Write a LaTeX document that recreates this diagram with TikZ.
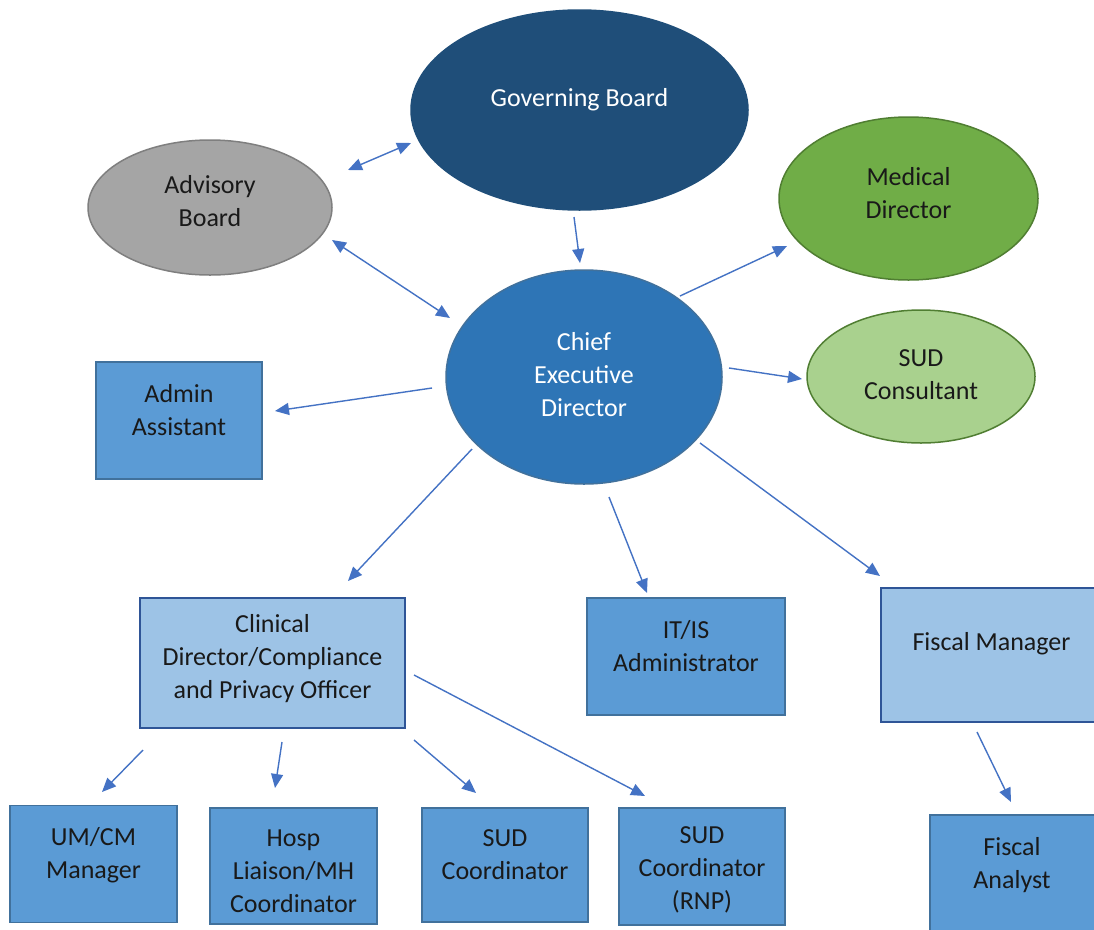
\documentclass[tikz,border=0pt]{standalone}
\usepackage{fontspec}
\setmainfont{Carlito}
\usetikzlibrary{arrows.meta,shapes.geometric}
\definecolor{govc}{HTML}{1F4E79}
\definecolor{advc}{HTML}{A5A5A5}
\definecolor{advb}{HTML}{7F7F7F}
\definecolor{medc}{HTML}{70AD47}
\definecolor{medb}{HTML}{507E32}
\definecolor{sudcc}{HTML}{A9D18E}
\definecolor{cedc}{HTML}{2E75B6}
\definecolor{boxc}{HTML}{5B9BD5}
\definecolor{boxb}{HTML}{41719C}
\definecolor{lboxc}{HTML}{9DC3E6}
\definecolor{lboxb}{HTML}{2F5597}
\definecolor{arrc}{HTML}{4472C4}
\tikzset{
  ell/.style={ellipse,inner sep=0pt,line width=1.5pt},
  bx/.style={rectangle,inner sep=0pt,line width=1.5pt,fill=boxc,draw=boxb},
  lbx/.style={rectangle,inner sep=0pt,line width=2pt,fill=lboxc,draw=lboxb},
  tl/.style={align=center,font=\fontsize{26}{33}\selectfont,text=black!90},
  tw/.style={align=center,font=\fontsize{26}{33}\selectfont,text=white},
  arr/.style={draw=arrc,line width=1.4pt,-{Triangle[length=14pt,width=12pt]}},
  darr/.style={draw=arrc,line width=1.4pt,{Triangle[length=14pt,width=12pt]}-{Triangle[length=14pt,width=12pt]}}
}
\begin{document}
\begin{tikzpicture}[x=1pt,y=-1pt]
\useasboundingbox[fill=white] (0,0) rectangle (1094,929);
\clip (0,0) rectangle (1094,929);
% ellipses
\node[ell,fill=govc,draw=govc,minimum width=337,minimum height=200,
  label={[tw,yshift=10]center:Governing Board}] (gov) at (579.5,110) {};
\node[ell,fill=advc,draw=advb,minimum width=244,minimum height=135,
  label={[tl,yshift=6]center:Advisory\\Board}] (adv) at (210,207.5) {};
\node[ell,fill=medc,draw=medb,minimum width=259,minimum height=163,
  label={[tl,yshift=5]center:Medical\\Director}] (med) at (908.5,198.5) {};
\node[ell,fill=sudcc,draw=medb,minimum width=228,minimum height=133,
  label={[tl,yshift=2]center:SUD\\Consultant}] (sudc) at (921,376.5) {};
\node[ell,fill=cedc,draw=boxb,minimum width=276,minimum height=214,
  label={[tw,yshift=2]center:Chief\\Executive\\Director}] (ced) at (584,377) {};
% boxes
\node[bx,minimum width=166,minimum height=117,
  label={[tl,yshift=10]center:Admin\\Assistant}] (admin) at (179,420.5) {};
\node[lbx,minimum width=265,minimum height=130,
  label={[tl,yshift=4]center:Clinical\\Director/Compliance\\and Privacy Officer}] (clin) at (272.5,663) {};
\node[bx,minimum width=198,minimum height=117,
  label={[tl,yshift=10]center:IT/IS\\Administrator}] (it) at (686,656.5) {};
\node[lbx,minimum width=229,minimum height=134,
  label={[tl,xshift=-4,yshift=11]center:Fiscal Manager}] (fm) at (995.5,655) {};
\node[bx,minimum width=167,minimum height=117,
  label={[tl,yshift=9]center:UM/CM\\Manager}] (um) at (93.5,864) {};
\node[bx,minimum width=167,minimum height=116,
  label={[tl,yshift=-5]center:Hosp\\Liaison/MH\\Coordinator}] (hosp) at (293.5,866) {};
\node[bx,minimum width=166,minimum height=114,
  label={[tl,yshift=10]center:SUD\\Coordinator}] (sudco) at (505,865) {};
\node[bx,minimum width=166,minimum height=117,
  label={[tl,yshift=-3]center:SUD\\Coordinator\\(RNP)}] (rnp) at (702,866.5) {};
\node[bx,minimum width=180,minimum height=130,
  label={[tl,xshift=-8,yshift=15]center:Fiscal\\Analyst}] (fa) at (1020,880) {};
% connectors
\draw[darr] ([shift={(138,-37.5)}]adv.center) -- ([shift={(-168.5,33)}]gov.center);
\draw[darr] ([shift={(122,32.5)}]adv.center) -- ([shift={(-134,-59)}]ced.center);
\draw[arr] ([shift={(-5.5,107)}]gov.center) -- ([shift={(-4,-114)}]ced.center);
\draw[arr] ([shift={(96,-81)}]ced.center) -- ([shift={(-121.5,47.5)}]med.center);
\draw[arr] ([shift={(145,-9)}]ced.center) -- ([shift={(-119,2.5)}]sudc.center);
\draw[arr] ([shift={(-152,11)}]ced.center) -- ([shift={(96,-9.5)}]admin.center);
\draw[arr] ([shift={(-112,72)}]ced.center) -- ([shift={(75.5,-82)}]clin.center);
\draw[arr] ([shift={(25,120)}]ced.center) -- ([shift={(-39,-63.5)}]it.center);
\draw[arr] ([shift={(116,66)}]ced.center) -- ([shift={(-115.5,-79)}]fm.center);
\draw[arr] ([shift={(-129.5,87)}]clin.center) -- ([shift={(8.5,-72)}]um.center);
\draw[arr] ([shift={(9.5,79)}]clin.center) -- ([shift={(-18.5,-78)}]hosp.center);
\draw[arr] ([shift={(141.5,77)}]clin.center) -- ([shift={(-29,-72)}]sudco.center);
\draw[arr] ([shift={(141.5,12)}]clin.center) -- ([shift={(-57,-70.5)}]rnp.center);
\draw[arr] ([shift={(-18.5,77)}]fm.center) -- ([shift={(-9,-78)}]fa.center);
\end{tikzpicture}
\end{document}
